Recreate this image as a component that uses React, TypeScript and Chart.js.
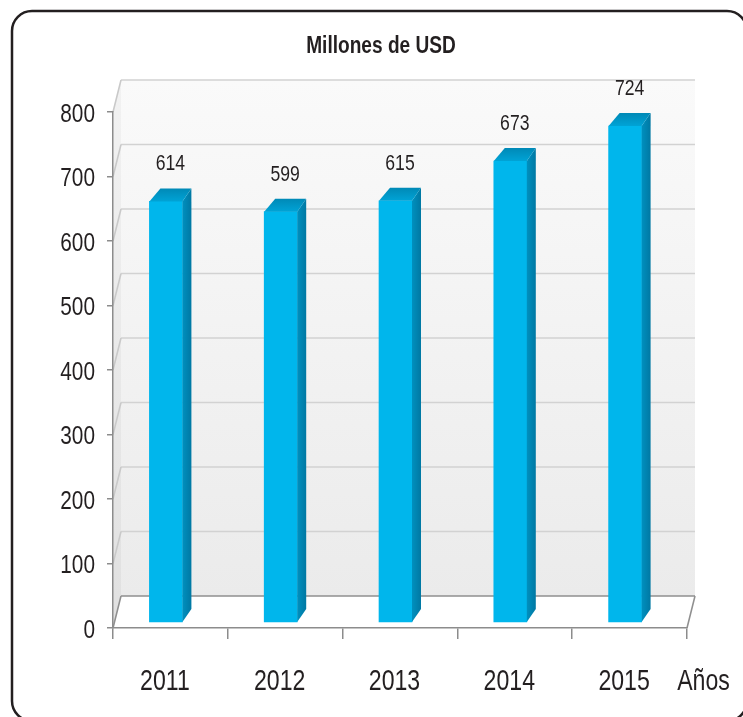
import React, { useEffect, useRef } from "react";
import { Chart, registerables } from "chart.js";

Chart.register(...registerables);

// ---- data ----
const categories: string[] = ["2011", "2012", "2013", "2014", "2015"];
const values: number[] = [614, 599, 615, 673, 724];
const yTickValues: number[] = [0, 100, 200, 300, 400, 500, 600, 700, 800];
const chartTitle = "Millones de USD";
const xAxisTitle = "Años";

const FONT = "'Liberation Sans', Arial, Helvetica, sans-serif";
const TEXT = "#231f20";

const DX = 8; // depth of the back wall
const DY = 32;
const BDX = 9; // bar depth
const BDY = 13;

function narrowText(
  ctx: CanvasRenderingContext2D,
  text: string,
  x: number,
  y: number,
  size: number,
  squeeze: number,
  bold = false,
  align: CanvasTextAlign = "center"
) {
  ctx.save();
  ctx.translate(x, y);
  ctx.scale(squeeze, 1);
  ctx.font = `${bold ? "bold " : ""}${size}px ${FONT}`;
  ctx.textAlign = align;
  ctx.textBaseline = "alphabetic";
  ctx.fillStyle = TEXT;
  ctx.fillText(text, 0, 0);
  ctx.restore();
}

const threeD = {
  id: "threeD",
  beforeDraw(chart: any) {
    const ctx = chart.ctx as CanvasRenderingContext2D;
    const W = chart.width;
    const H = chart.height;
    const a = chart.chartArea;
    const y = chart.scales.y;
    ctx.save();
    ctx.fillStyle = "#ffffff";
    ctx.fillRect(0, 0, W, H);

    // rounded frame
    ctx.beginPath();
    (ctx as any).roundRect(12, 11, 735, 710, 20);
    ctx.lineWidth = 2.5;
    ctx.strokeStyle = "#231f20";
    ctx.stroke();

    // title
    narrowText(ctx, chartTitle, 381, 53, 23, 0.83, true);

    const left = a.left;
    const right = a.right;
    const y0 = y.getPixelForValue(yTickValues[0]);
    const yTop = y.getPixelForValue(yTickValues[yTickValues.length - 1]);

    // back wall
    const g = ctx.createLinearGradient(0, yTop - DY, 0, y0 - DY);
    g.addColorStop(0, "#fafafa");
    g.addColorStop(1, "#ebebeb");
    ctx.fillStyle = g;
    ctx.fillRect(left + DX, yTop - DY, right - left, y0 - yTop);

    // left wall
    const g2 = ctx.createLinearGradient(0, yTop - DY, 0, y0);
    g2.addColorStop(0, "#f2f2f2");
    g2.addColorStop(1, "#e0e0e0");
    ctx.fillStyle = g2;
    ctx.beginPath();
    ctx.moveTo(left, yTop);
    ctx.lineTo(left + DX, yTop - DY);
    ctx.lineTo(left + DX, y0 - DY);
    ctx.lineTo(left, y0);
    ctx.closePath();
    ctx.fill();

    // floor
    ctx.fillStyle = "#ffffff";
    ctx.beginPath();
    ctx.moveTo(left, y0);
    ctx.lineTo(right, y0);
    ctx.lineTo(right + DX, y0 - DY);
    ctx.lineTo(left + DX, y0 - DY);
    ctx.closePath();
    ctx.fill();

    // grid lines on walls
    yTickValues.forEach((v, i) => {
      const py = y.getPixelForValue(v);
      const isFloor = i === 0;
      ctx.strokeStyle = isFloor ? "#8f8f8f" : "#d2d2d2";
      ctx.lineWidth = 1.5;
      ctx.beginPath();
      ctx.moveTo(left + DX, py - DY);
      ctx.lineTo(right + DX, py - DY);
      ctx.stroke();
      ctx.strokeStyle = isFloor ? "#8f8f8f" : "#c9c9c9";
      ctx.beginPath();
      ctx.moveTo(left, py);
      ctx.lineTo(left + DX, py - DY);
      ctx.stroke();
    });
    // right floor edge
    ctx.strokeStyle = "#8f8f8f";
    ctx.lineWidth = 1.5;
    ctx.beginPath();
    ctx.moveTo(right, y0);
    ctx.lineTo(right + DX, y0 - DY);
    ctx.stroke();
    ctx.restore();
  },
  afterDatasetsDraw(chart: any) {
    const ctx = chart.ctx as CanvasRenderingContext2D;
    const meta = chart.getDatasetMeta(0);
    const xs = chart.scales.x;
    const ys = chart.scales.y;
    ctx.save();
    meta.data.forEach((bar: any, i: number) => {
      const { x, y, base, width } = bar.getProps(["x", "y", "base", "width"], true);
      const l = x - width / 2;
      const r = x + width / 2;
      // side face
      const gs = ctx.createLinearGradient(r, 0, r + BDX, 0);
      gs.addColorStop(0, "#0090bf");
      gs.addColorStop(1, "#0078a3");
      ctx.fillStyle = gs;
      ctx.beginPath();
      ctx.moveTo(r, y);
      ctx.lineTo(r + BDX, y - BDY);
      ctx.lineTo(r + BDX, base - BDY);
      ctx.lineTo(r, base);
      ctx.closePath();
      ctx.fill();
      // top face
      const gt = ctx.createLinearGradient(0, y - BDY, 0, y);
      gt.addColorStop(0, "#0089b6");
      gt.addColorStop(1, "#00a3d6");
      ctx.fillStyle = gt;
      ctx.beginPath();
      ctx.moveTo(l, y);
      ctx.lineTo(l + BDX + 2, y - BDY);
      ctx.lineTo(r + BDX, y - BDY);
      ctx.lineTo(r, y);
      ctx.closePath();
      ctx.fill();
      // value label
      narrowText(ctx, String(values[i]), xs.getPixelForValue(i), y - 31, 22, 0.8);
    });
    // category labels
    categories.forEach((c, i) => {
      narrowText(ctx, c, xs.getPixelForValue(i) - 5.5, 690, 30, 0.77);
    });
    // y tick labels
    yTickValues.forEach((v) => {
      narrowText(ctx, String(v), 95, ys.getPixelForValue(v) + 9.5, 26, 0.8, false, "right");
    });
    // x axis title
    narrowText(ctx, xAxisTitle, 703.5, 690, 30, 0.77);
    ctx.restore();
  },
};

export default function App() {
  const ref = useRef<HTMLCanvasElement | null>(null);
  useEffect(() => {
    if (!ref.current) return;
    const catW = 574 / categories.length;
    const shift = BDX / 2 / catW;
    const chart = new Chart(ref.current, {
      type: "bar",
      data: {
        labels: categories,
        datasets: [
          {
            data: categories.map((_, i) => ({ x: i, y: values[i] })) as any,
            xAxisID: "xb",
            yAxisID: "yb",
            backgroundColor: "#00b6ec",
            borderWidth: 0,
            barThickness: 33,
          },
        ],
      },
      options: {
        animation: false,
        responsive: false,
        devicePixelRatio: 1,
        layout: { padding: { left: 0, right: 56, top: 112, bottom: 0 } },
        plugins: { legend: { display: false }, tooltip: { enabled: false }, title: { display: false } },
        scales: {
          x: {
            type: "category",
            position: "bottom",
            offset: true,
            grid: { offset: true, drawOnChartArea: false, tickLength: 11, color: "#8c8c8c", lineWidth: 1.5 },
            border: { display: true, color: "#8c8c8c", width: 1.5 },
            ticks: { display: false, autoSkip: false },
            afterFit: (s: any) => {
              s.height = 89;
            },
          },
          y: {
            type: "linear",
            position: "left",
            min: yTickValues[0],
            max: yTickValues[yTickValues.length - 1],
            ticks: { display: false, stepSize: 100 },
            grid: { drawOnChartArea: false, tickLength: 6, color: "#8c8c8c", lineWidth: 1.5 },
            border: { display: true, color: "#8c8c8c", width: 1.5 },
            afterFit: (s: any) => {
              s.width = 113;
            },
          },
          xb: {
            type: "linear",
            display: false,
            position: "bottom",
            offset: false,
            grid: { offset: false },
            min: -0.5 + shift,
            max: categories.length - 0.5 + shift,
          },
          yb: {
            type: "linear",
            display: false,
            position: "left",
            min: -6 / 0.685,
            max: (622 - 112) / 0.685,
          },
        },
      } as any,
      plugins: [threeD],
    });
    return () => chart.destroy();
  }, []);
  return (
    <div style={{ position: "absolute", left: 0, top: 0, width: 743, height: 717 }}>
      <canvas ref={ref} width={743} height={717} style={{ display: "block" }} />
    </div>
  );
}
